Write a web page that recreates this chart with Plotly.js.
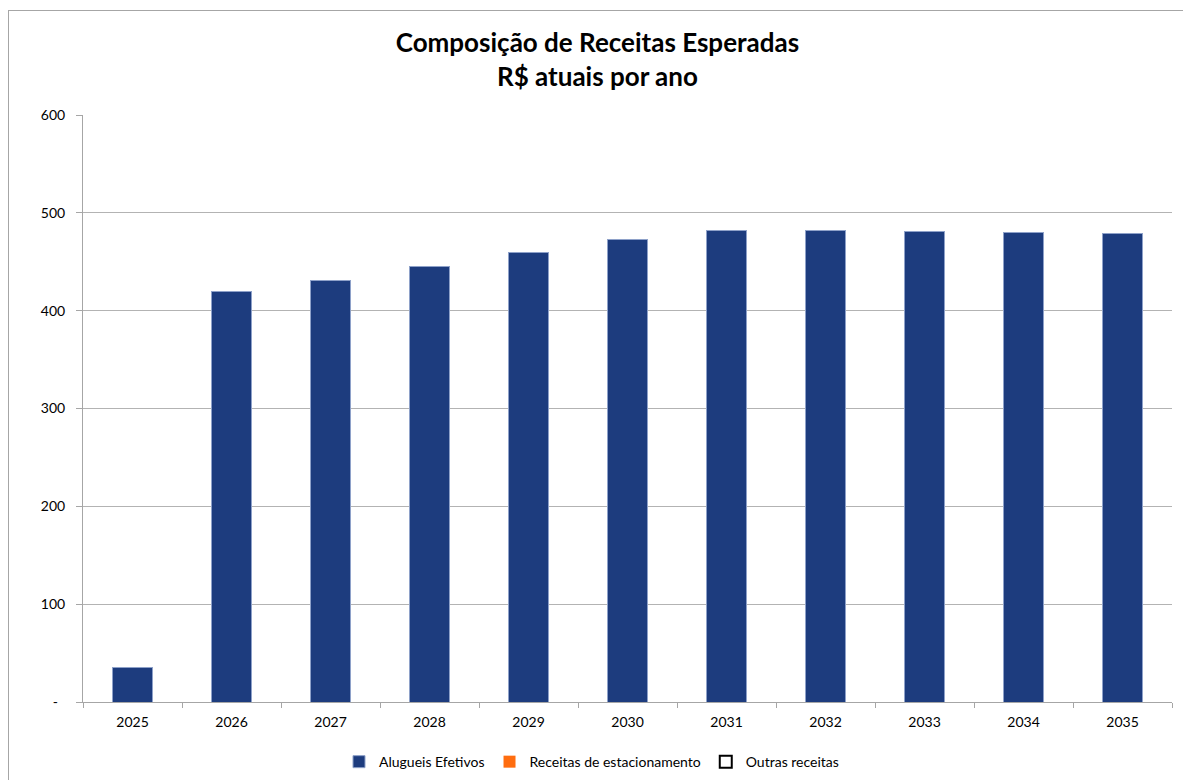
<!DOCTYPE html>
<html>
<head>
<meta charset="utf-8">
<script src="https://cdn.plot.ly/plotly-3.0.1.min.js"></script>
<style>
  html, body { margin: 0; padding: 0; background: #fff; }
  #wrap { position: relative; width: 1183px; height: 780px; }
  #chart { width: 1183px; height: 780px; }
  #frame { position: absolute; left: 8px; top: 10px; right: 0; bottom: 0;
           border-left: 1px solid #a6a6a6; border-top: 1px solid #a6a6a6; pointer-events: none; }
</style>
</head>
<body>
<div id="wrap">
  <div id="chart"></div>
  <div id="frame"></div>
</div>
<script>
const years = ["2025","2026","2027","2028","2029","2030","2031","2032","2033","2034","2035"];
const alugueis = [35, 420, 431, 445, 459, 473, 482, 481.5, 481, 480, 479];
const estacionamento = [null, null, null, null, null, null, null, null, null, null, null];
const outras = [null, null, null, null, null, null, null, null, null, null, null];
const yTickVals = [0, 100, 200, 300, 400, 500, 600];
const yTickText = ["-&nbsp;&nbsp;", "100", "200", "300", "400", "500", "600"];

const FONT = "Lato, 'Open Sans', sans-serif";

const traces = [
  { type: "bar", name: "Alugueis Efetivos", x: years, y: alugueis,
    marker: { color: "#1d3c7e", line: { color: "#8ea1c9", width: 1 } } },
  { type: "bar", name: "Receitas de estacionamento", x: years, y: estacionamento,
    marker: { color: "#ff6d0f", line: { width: 0 } } },
  { type: "bar", name: "Outras receitas", x: years, y: outras,
    marker: { color: "#ffffff", line: { color: "#000000", width: 2 } } }
];

const layout = {
  width: 1183, height: 780,
  margin: { l: 83, r: 11, t: 115, b: 78, autoexpand: false },
  paper_bgcolor: "#ffffff", plot_bgcolor: "#ffffff",
  barmode: "stack", bargap: 0.6,
  font: { family: FONT, size: 14, color: "#000" },
  title: { text: "<b>Composição de Receitas Esperadas<br>R$ atuais por ano</b>",
           font: { family: FONT, size: 26, color: "#000" },
           x: 0.505, xanchor: "center", y: 0.933, yanchor: "top" },
  xaxis: { type: "category", showgrid: false, showline: true, linecolor: "#a6a6a6", linewidth: 1,
           ticks: "outside", tickson: "boundaries", ticklen: 5, tickcolor: "#a6a6a6",
           tickfont: { family: FONT, size: 14 }, ticklabelstandoff: 7, fixedrange: true },
  yaxis: { range: [0, 600], tickvals: yTickVals, ticktext: yTickText,
           showgrid: true, gridcolor: "#b3b3b3", gridwidth: 1, zeroline: false,
           showline: true, linecolor: "#a6a6a6", linewidth: 1,
           ticks: "outside", ticklen: 6, tickcolor: "#a6a6a6",
           tickfont: { family: FONT, size: 14 }, ticklabelstandoff: 8, fixedrange: true },
  legend: { orientation: "h", xref: "container", yref: "container",
            x: 0.5, xanchor: "center", y: 0.023, yanchor: "middle",
            font: { family: FONT, size: 14 }, traceorder: "normal" },
  showlegend: true
};

Plotly.newPlot("chart", traces, layout, { displayModeBar: false, staticPlot: true });
</script>
</body>
</html>
